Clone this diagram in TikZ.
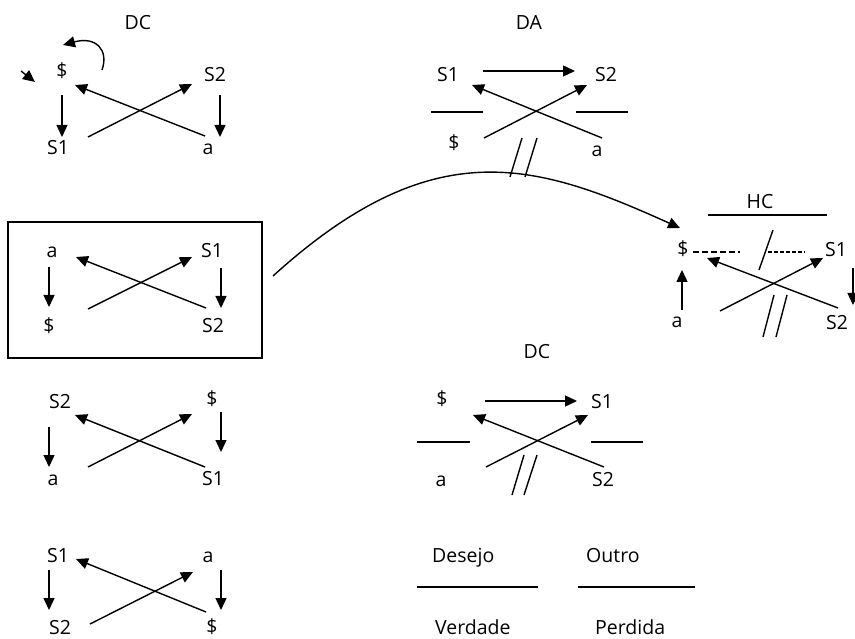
\documentclass[tikz,border=0pt]{standalone}
\usepackage{fontspec}
\setmainfont{Open Sans}
\usetikzlibrary{arrows.meta}
\begin{document}
\begin{tikzpicture}[x=1pt,y=-1pt,
  lbl/.style={anchor=base,inner sep=0pt,font=\fontsize{19.5}{22}\selectfont},
  lbll/.style={lbl,anchor=base west},
  arr/.style={line width=1.4pt,-{Triangle[length=12pt,width=11pt]}},
  ln/.style={line width=1.4pt}]
\useasboundingbox (0,0) rectangle (855,639);
\clip (0,0) rectangle (855,639);

% ---------- discourse block: $ / S1 -- S2 / a (top left)
\node[lbl] (dcA) at (138,30) {DC};
\node[lbl] (q1tl) at (62,78) {\$};
\node[lbl] (q1tr) at (215,82) {S2};
\node[lbl] (q1bl) at (58,155) {S1};
\node[lbl] (q1br) at (208,155) {a};
\coordinate (q1l1) at (62,95);  \coordinate (q1l2) at (62,137);
\coordinate (q1r1) at (220,95); \coordinate (q1r2) at (220,137);
\coordinate (q1x1) at (88,137); \coordinate (q1x2) at (192,84);
\coordinate (q1y1) at (205,136); \coordinate (q1y2) at (75,85);
\draw[arr] (q1l1) -- (q1l2);
\draw[arr] (q1r1) -- (q1r2);
\draw[arr] (q1x1) -- (q1x2);
\draw[arr] (q1y1) -- (q1y2);
\coordinate (turn1) at (102,70); \coordinate (turn2) at (63,45);
\draw[arr] (turn1) .. controls (109,50) and (96,36) .. (turn2);
\coordinate (tick1) at (21,71); \coordinate (tick2) at (35,82);
\draw[arr] (tick1) -- (tick2);

% ---------- framed block: a / $ -- S1 / S2
\draw[line width=1.4pt] (8,222) rectangle (262,358);
\node[lbl] (q2tl) at (52,258) {a};
\node[lbl] (q2tr) at (212,258) {S1};
\node[lbl] (q2bl) at (49,333) {\$};
\node[lbl] (q2br) at (213,333) {S2};
\coordinate (q2l1) at (49,267);  \coordinate (q2l2) at (49,307);
\coordinate (q2r1) at (221,268); \coordinate (q2r2) at (221,308);
\coordinate (q2x1) at (88,309);  \coordinate (q2x2) at (192,257);
\coordinate (q2y1) at (206,308); \coordinate (q2y2) at (76,257);
\draw[arr] (q2l1) -- (q2l2);
\draw[arr] (q2r1) -- (q2r2);
\draw[arr] (q2x1) -- (q2x2);
\draw[arr] (q2y1) -- (q2y2);

% ---------- block: S2 / a -- $ / S1
\node[lbl] (q3tl) at (60,408) {S2};
\node[lbl] (q3tr) at (212,406) {\$};
\node[lbl] (q3bl) at (53,485) {a};
\node[lbl] (q3br) at (213,485) {S1};
\coordinate (q3l1) at (49,427);  \coordinate (q3l2) at (49,467);
\coordinate (q3r1) at (221,412); \coordinate (q3r2) at (221,452);
\coordinate (q3x1) at (88,467);  \coordinate (q3x2) at (192,414);
\coordinate (q3y1) at (205,467); \coordinate (q3y2) at (75,415);
\draw[arr] (q3l1) -- (q3l2);
\draw[arr] (q3r1) -- (q3r2);
\draw[arr] (q3x1) -- (q3x2);
\draw[arr] (q3y1) -- (q3y2);

% ---------- block: S1 / S2 -- a / $
\node[lbl] (q4tl) at (58,562) {S1};
\node[lbl] (q4tr) at (208,562) {a};
\node[lbl] (q4bl) at (60,634) {S2};
\node[lbl] (q4br) at (212,633) {\$};
\coordinate (q4l1) at (49,570);  \coordinate (q4l2) at (49,610);
\coordinate (q4r1) at (221,570); \coordinate (q4r2) at (221,610);
\coordinate (q4x1) at (90,624);  \coordinate (q4x2) at (193,572);
\coordinate (q4y1) at (206,612); \coordinate (q4y2) at (76,559);
\draw[arr] (q4l1) -- (q4l2);
\draw[arr] (q4r1) -- (q4r2);
\draw[arr] (q4x1) -- (q4x2);
\draw[arr] (q4y1) -- (q4y2);

% ---------- DA
\node[lbl] (daT) at (529,30) {DA};
\node[lbl] (datl) at (448,82) {S1};
\node[lbl] (datr) at (606,82) {S2};
\node[lbl] (dabl) at (454,150) {\$};
\node[lbl] (dabr) at (597,157) {a};
\coordinate (dah1) at (483,71);  \coordinate (dah2) at (575,71);
\draw[arr] (dah1) -- (dah2);
\coordinate (dab1) at (431,112); \coordinate (dab2) at (483,112);
\coordinate (dab3) at (576,112); \coordinate (dab4) at (628,112);
\draw[ln] (dab1) -- (dab2);
\draw[ln] (dab3) -- (dab4);
\coordinate (dax1) at (484,138); \coordinate (dax2) at (587,85);
\coordinate (day1) at (602,138); \coordinate (day2) at (472,85);
\draw[arr] (dax1) -- (dax2);
\draw[arr] (day1) -- (day2);
\coordinate (das1) at (522,138); \coordinate (das2) at (510,177);
\coordinate (das3) at (537,138); \coordinate (das4) at (525,177);
\draw[ln] (das1) -- (das2);
\draw[ln] (das3) -- (das4);

% ---------- long arc from the framed block to HC
\coordinate (arcS) at (273,276);
\coordinate (arcE) at (680,228);
\draw[arr] (arcS) .. controls (434,130) and (536,163) .. (arcE);

% ---------- HC
\node[lbl] (hcT) at (760,209) {HC};
\coordinate (hcb1) at (708,215); \coordinate (hcb2) at (827,215);
\draw[ln] (hcb1) -- (hcb2);
\node[lbl] (hctl) at (683,256) {\$};
\node[lbl] (hctr) at (836,257) {S1};
\node[lbl] (hcbl) at (677,327) {a};
\node[lbl] (hcbr) at (837,330) {S2};
\coordinate (hcd1) at (693,252); \coordinate (hcd2) at (740,252);
\coordinate (hcd3) at (768,252); \coordinate (hcd4) at (805,252);
\draw[line width=1.6pt,dash pattern=on 6pt off 3pt] (hcd1) -- (hcd2);
\draw[line width=1.6pt,dash pattern=on 4pt off 2pt] (hcd3) -- (hcd4);
\coordinate (hcs1) at (773,230); \coordinate (hcs2) at (759,270);
\draw[ln] (hcs1) -- (hcs2);
\coordinate (hcu1) at (682,310); \coordinate (hcu2) at (682,270);
\draw[arr] (hcu1) -- (hcu2);
\coordinate (hcx1) at (720,311); \coordinate (hcx2) at (823,258);
\coordinate (hcy1) at (838,308); \coordinate (hcy2) at (707,258);
\draw[arr] (hcx1) -- (hcx2);
\draw[arr] (hcy1) -- (hcy2);
\coordinate (hcs3) at (774,295); \coordinate (hcs4) at (763,337);
\coordinate (hcs5) at (787,295); \coordinate (hcs6) at (776,337);
\draw[ln] (hcs3) -- (hcs4);
\draw[ln] (hcs5) -- (hcs6);
\coordinate (hcv1) at (853,268); \coordinate (hcv2) at (853,305);
\draw[arr] (hcv1) -- (hcv2);

% ---------- DC (lower)
\node[lbl] (dcB) at (537,359) {DC};
\node[lbl] (dctl) at (442,406) {\$};
\node[lbl] (dctr) at (602,408) {S1};
\node[lbl] (dcbl) at (441,486) {a};
\node[lbl] (dcbr) at (603,486) {S2};
\coordinate (dch1) at (485,401); \coordinate (dch2) at (577,401);
\draw[arr] (dch1) -- (dch2);
\coordinate (dcb1) at (417,442); \coordinate (dcb2) at (470,442);
\coordinate (dcb3) at (591,442); \coordinate (dcb4) at (643,442);
\draw[ln] (dcb1) -- (dcb2);
\draw[ln] (dcb3) -- (dcb4);
\coordinate (dcx1) at (486,467); \coordinate (dcx2) at (588,415);
\coordinate (dcy1) at (604,467); \coordinate (dcy2) at (473,415);
\draw[arr] (dcx1) -- (dcx2);
\draw[arr] (dcy1) -- (dcy2);
\coordinate (dcs1) at (524,455); \coordinate (dcs2) at (512,495);
\coordinate (dcs3) at (537,455); \coordinate (dcs4) at (524,495);
\draw[ln] (dcs1) -- (dcs2);
\draw[ln] (dcs3) -- (dcs4);

% ---------- legend of places
\node[lbll] (pDes) at (432,562) {Desejo};
\node[lbll] (pOut) at (586,562) {Outro};
\coordinate (pl1) at (417,587); \coordinate (pl2) at (538,587);
\coordinate (pl3) at (578,587); \coordinate (pl4) at (695,587);
\draw[ln] (pl1) -- (pl2);
\draw[ln] (pl3) -- (pl4);
\node[lbll] (pVer) at (435,634) {Verdade};
\node[lbll] (pPer) at (595,634) {Perdida};
\end{tikzpicture}
\end{document}
